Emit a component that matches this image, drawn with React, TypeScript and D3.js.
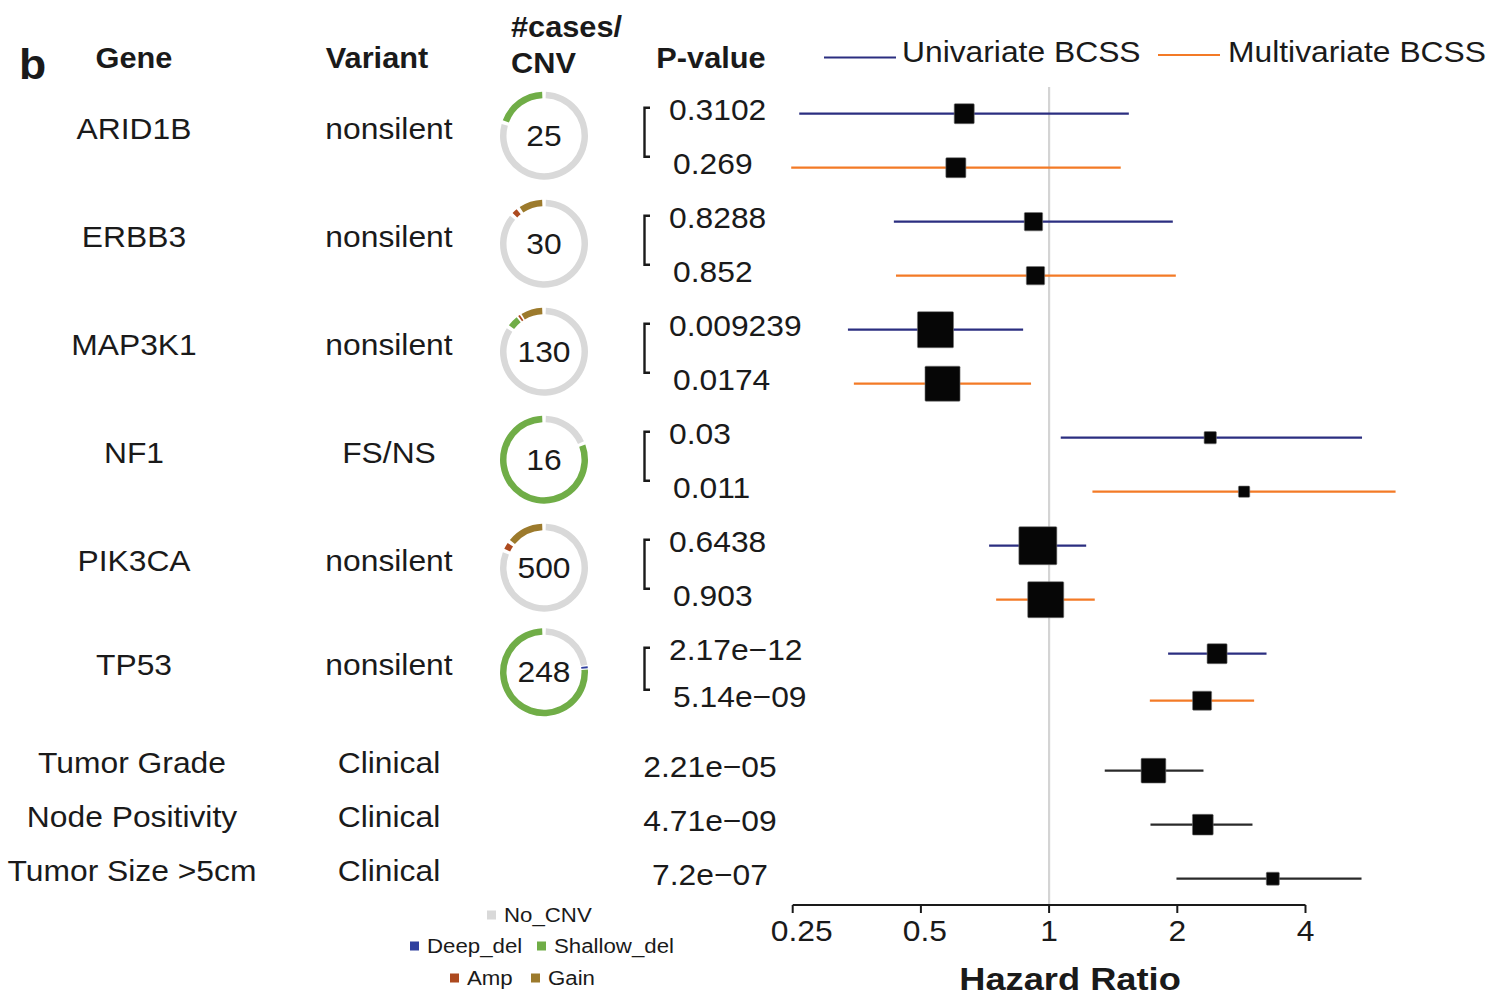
import React from 'react';
import * as d3 from 'd3';

// gene rows
const genes = ['ARID1B', 'ERBB3', 'MAP3K1', 'NF1', 'PIK3CA', 'TP53'];
const variants = ['nonsilent', 'nonsilent', 'nonsilent', 'FS/NS', 'nonsilent', 'nonsilent'];
const caseCounts = [25, 30, 130, 16, 500, 248];

// CNV breakdown per gene, order: No_CNV, Deep_del, Shallow_del, Amp, Gain
const cnvTypes = ['No_CNV', 'Deep_del', 'Shallow_del', 'Amp', 'Gain'];
const cnvColors = ['#d9d9d9', '#2f3f9e', '#70ad47', '#ad4a1f', '#9c7a2c'];
const cnvCounts = [
  [20, 0, 5, 0, 0],
  [26, 0, 0, 1, 3],
  [110, 0, 7, 1, 12],
  [3, 0, 13, 0, 0],
  [407, 0, 0, 19, 74],
  [57, 1, 190, 0, 0],
];

// univariate BCSS
const pUni = ['0.3102', '0.8288', '0.009239', '0.03', '0.6438', '2.17e\u221212'];
const hrUni = [0.632, 0.919, 0.541, 2.39, 0.941, 2.48];
const loUni = [0.259, 0.432, 0.337, 1.065, 0.723, 1.903];
const hiUni = [1.539, 1.952, 0.869, 5.43, 1.222, 3.24];
const wUni = [4.0, 3.35, 13.0, 1.5, 14.4, 4.0];

// multivariate BCSS
const pMulti = ['0.269', '0.852', '0.0174', '0.011', '0.903', '5.14e\u221209'];
const hrMulti = [0.604, 0.929, 0.562, 2.87, 0.982, 2.287];
const loMulti = [0.248, 0.437, 0.348, 1.264, 0.751, 1.724];
const hiMulti = [1.473, 1.984, 0.907, 6.51, 1.28, 3.03];
const wMulti = [4.0, 3.35, 12.25, 1.28, 12.96, 3.61];

// clinical covariates
const clinLabels = ['Tumor Grade', 'Node Positivity', 'Tumor Size >5cm'];
const clinP = ['2.21e\u221205', '4.71e\u221209', '7.2e\u221207'];
const clinHr = [1.758, 2.296, 3.352];
const clinLo = [1.351, 1.73, 1.991];
const clinHi = [2.304, 3.003, 5.415];
const clinW = [6.1, 4.3, 1.69];

const hrTicks = [0.25, 0.5, 1, 2, 4];

const FONT = 'Liberation Sans, Arial, Helvetica, sans-serif';
const INK = '#1a1a1a';
const UNI = '#2b2e80';
const MULTI = '#f37a26';
const STRETCH = 1.06; // the figure's text is a bit wider than plain Arial

const W = 1489;
const H = 997;

const x = d3.scaleLog().base(2).domain([0.25, 4]).range([792.7, 1305.5]);
const boxSize = d3.scaleSqrt().domain([0, 14.4]).range([0, 38]);

// vertical layout
const firstRow = 113.7;
const pairStep = 108;
const uniY = (i: number) => firstRow + pairStep * i;
const multiY = (i: number) => uniY(i) + (i === genes.length - 1 ? 47 : 54);
const clinY = (j: number) => 770.7 + 54 * j;
const axisY = 905;

const rOuter = 44;
const rInner = 37.5;
const gap = 0.085;
const minArc = 0.045;
const arc = d3.arc<any>().innerRadius(rInner).outerRadius(rOuter);

function donutArcs(counts: number[]) {
  const pie = d3.pie<number>().sort(null).value((d) => d)(counts);
  return pie
    .map((p, k) => ({ ...p, k }))
    .filter((p) => p.value > 0)
    .map((p) => {
      let s = p.startAngle + gap / 2;
      let e = p.endAngle - gap / 2;
      if (e - s < minArc) {
        const m = (p.startAngle + p.endAngle) / 2;
        s = m - minArc / 2;
        e = m + minArc / 2;
      }
      return { d: arc({ startAngle: s, endAngle: e }) as string, color: cnvColors[p.k] };
    });
}

const Txt = (props: any) => {
  const { children, size = 30, weight = 'normal', anchor = 'middle', x = 0, y = 0, sx = STRETCH, ...rest } = props;
  return (
    <text
      transform={`translate(${x},${y}) scale(${sx},1)`}
      fontFamily={FONT}
      fontSize={size}
      fontWeight={weight}
      textAnchor={anchor}
      dominantBaseline="central"
      fill={INK}
      {...rest}
    >
      {children}
    </text>
  );
};

function Forest({ hr, lo, hi, w, y, color }: any) {
  const s = boxSize(w);
  return (
    <g>
      <line x1={x(lo)} x2={x(hi)} y1={y} y2={y} stroke={color} strokeWidth={2.2} />
      <rect x={x(hr) - s / 2} y={y - s / 2} width={s} height={s} rx={1} fill="#060606" stroke="#777" strokeWidth={0.6} />
    </g>
  );
}

export default function App() {
  return (
    <svg width={W} height={H} style={{ position: 'absolute', left: 0, top: 0, background: '#fff' }}>
      {/* headers */}
      <Txt x={19} y={64} size={42} weight="bold" anchor="start">b</Txt>
      <Txt x={134} y={58} size={29} weight="bold">Gene</Txt>
      <Txt x={377} y={58} size={29} weight="bold">Variant</Txt>
      <Txt x={511} y={27} size={29} weight="bold" anchor="start">#cases/</Txt>
      <Txt x={511} y={63} size={29} weight="bold" anchor="start">CNV</Txt>
      <Txt x={711} y={58} size={29} weight="bold">P-value</Txt>

      {/* top legend */}
      <line x1={824} x2={896} y1={57.5} y2={57.5} stroke={UNI} strokeWidth={2} />
      <Txt x={902} y={52} anchor="start">Univariate BCSS</Txt>
      <line x1={1158} x2={1220} y1={55} y2={55} stroke={MULTI} strokeWidth={2} />
      <Txt x={1228} y={52} anchor="start">Multivariate BCSS</Txt>

      {/* reference line at HR = 1 */}
      <line x1={x(1)} x2={x(1)} y1={87} y2={axisY} stroke="#d4d4d4" strokeWidth={2.2} />

      {genes.map((g, i) => {
        const y0 = uniY(i);
        const y1 = multiY(i);
        const mid = (y0 + y1) / 2;
        return (
          <g key={g}>
            <Txt x={134} y={mid - 12}>{g}</Txt>
            <Txt x={389} y={mid - 12}>{variants[i]}</Txt>
            <g transform={`translate(544,${mid - 5})`}>
              {donutArcs(cnvCounts[i]).map((a, k) => (
                <path key={k} d={a.d} fill={a.color} />
              ))}
              <Txt x={0} y={0}>{caseCounts[i]}</Txt>
            </g>
            <path
              d={`M650,${y0 - 6}H644.5V${y1 - 11}H650`}
              fill="none"
              stroke={INK}
              strokeWidth={2.4}
            />
            <Txt x={669} y={y0 - 4} anchor="start">{pUni[i]}</Txt>
            <Txt x={673} y={y1 - 4} anchor="start">{pMulti[i]}</Txt>
            <Forest hr={hrUni[i]} lo={loUni[i]} hi={hiUni[i]} w={wUni[i]} y={y0} color={UNI} />
            <Forest hr={hrMulti[i]} lo={loMulti[i]} hi={hiMulti[i]} w={wMulti[i]} y={y1} color={MULTI} />
          </g>
        );
      })}

      {clinLabels.map((c, j) => {
        const y = clinY(j);
        return (
          <g key={c}>
            <Txt x={132} y={y - 8}>{c}</Txt>
            <Txt x={389} y={y - 8}>Clinical</Txt>
            <Txt x={710} y={y - 4}>{clinP[j]}</Txt>
            <Forest hr={clinHr[j]} lo={clinLo[j]} hi={clinHi[j]} w={clinW[j]} y={y} color="#2a2a2a" />
          </g>
        );
      })}

      {/* x axis */}
      <g>
        <line x1={x(0.25)} x2={x(4)} y1={axisY} y2={axisY} stroke={INK} strokeWidth={2} />
        {hrTicks.map((t) => (
          <g key={t}>
            <line x1={x(t)} x2={x(t)} y1={axisY} y2={axisY + 8} stroke={INK} strokeWidth={2} />
            <Txt x={x(t) + (t < 1 ? 14 - 20 * t : 0)} y={axisY + 26}>{String(t)}</Txt>
          </g>
        ))}
        <Txt x={1070} y={979} size={31} sx={1.17} weight="bold">Hazard Ratio</Txt>
      </g>

      {/* CNV legend */}
      {[
        { k: 0, x: 487, y: 915 },
        { k: 1, x: 410, y: 946 },
        { k: 2, x: 537, y: 946 },
        { k: 3, x: 450, y: 978 },
        { k: 4, x: 531, y: 978 },
      ].map((l) => (
        <g key={l.k}>
          <rect x={l.x} y={l.y - 4.5} width={9} height={9} fill={cnvColors[l.k]} />
          <Txt x={l.x + 17} y={l.y} size={21} anchor="start">{cnvTypes[l.k]}</Txt>
        </g>
      ))}
    </svg>
  );
}
